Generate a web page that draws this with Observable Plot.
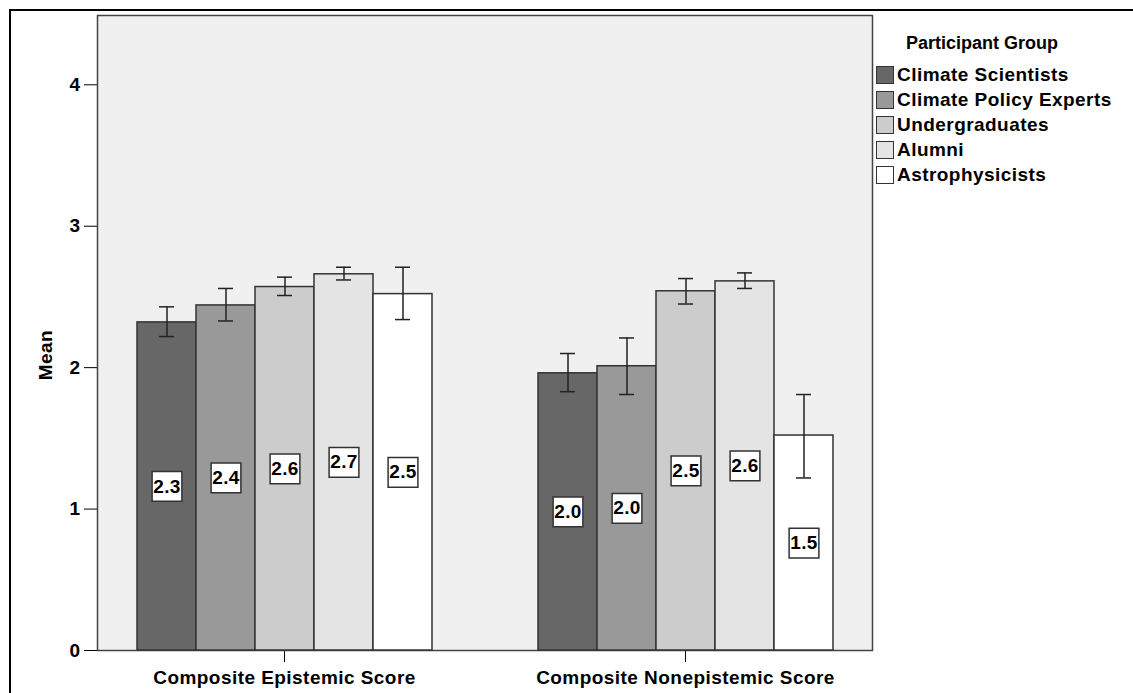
<!DOCTYPE html>
<html><head><meta charset="utf-8">
<script src="https://cdn.jsdelivr.net/npm/d3@7"></script>
<script src="https://cdn.jsdelivr.net/npm/@observablehq/plot@0.6"></script>
<style>
html,body{margin:0;padding:0;background:#fff;overflow:hidden;}
#wrap{position:relative;width:1133px;height:693px;overflow:hidden;font-family:"Liberation Sans",Arial,sans-serif;font-weight:bold;color:#000;letter-spacing:0.45px;}
#border{position:absolute;left:9px;top:9px;width:1400px;height:1000px;border:2px solid #000;box-sizing:border-box;}
#chart{position:absolute;left:0;top:0;}
#ylabel{position:absolute;left:46px;top:355px;font-size:19px;transform:translate(-50%,-50%) rotate(-90deg);white-space:nowrap;}
#legend{position:absolute;left:876px;top:31px;width:240px;}
#legend .title{font-size:18px;letter-spacing:0;text-align:center;width:212px;height:31px;line-height:24px;}
#legend .row{display:flex;align-items:center;height:25px;font-size:19px;line-height:25px;white-space:nowrap;}
#legend .sw{width:18px;height:18px;box-sizing:border-box;border:1.5px solid #333;margin-right:3px;flex:none;}
</style></head><body>
<div id="wrap"><div id="border"></div><div id="chart"></div><div id="ylabel"></div><div id="legend"></div></div>
<script>
const groups = ["Composite Epistemic Score", "Composite Nonepistemic Score"];
const series = ["Climate Scientists", "Climate Policy Experts", "Undergraduates", "Alumni", "Astrophysicists"];
const seriesColors = ["#676767", "#999999", "#cccccc", "#e4e4e4", "#ffffff"];
const legendTitle = "Participant Group";
const yLabel = "Mean";
const yTicks = [0, 1, 2, 3, 4];

const epistemicMean  = [2.32, 2.44, 2.57, 2.66, 2.52];
const epistemicLow   = [2.22, 2.33, 2.51, 2.62, 2.34];
const epistemicHigh  = [2.43, 2.56, 2.64, 2.71, 2.71];
const epistemicLabel = ["2.3", "2.4", "2.6", "2.7", "2.5"];

const nonepistemicMean  = [1.96, 2.01, 2.54, 2.61, 1.52];
const nonepistemicLow   = [1.83, 1.81, 2.45, 2.56, 1.22];
const nonepistemicHigh  = [2.10, 2.21, 2.63, 2.67, 1.81];
const nonepistemicLabel = ["2.0", "2.0", "2.5", "2.6", "1.5"];

const table = [
  [epistemicMean, epistemicLow, epistemicHigh, epistemicLabel],
  [nonepistemicMean, nonepistemicLow, nonepistemicHigh, nonepistemicLabel]
];
const rows = [];
groups.forEach((g, gi) => {
  const [m, lo, hi, lab] = table[gi];
  series.forEach((s, si) => rows.push({group: g, series: s, mean: m[si], low: lo[si], high: hi[si], label: lab[si]}));
});

const font = "'Liberation Sans', Arial, sans-serif";
const plot = Plot.plot({
  width: 1133, height: 693,
  marginLeft: 96, marginRight: 260, marginTop: 15, marginBottom: 43,
  style: {fontFamily: font, fontWeight: "bold", fontSize: "19px", color: "#000", background: "transparent", overflow: "visible", letterSpacing: "0.45px"},
  fx: {domain: groups, paddingInner: 0.067, paddingOuter: 0, label: null, tickSize: 12, tickPadding: 8},
  x: {domain: series, paddingInner: 0, paddingOuter: 0.657, axis: null},
  y: {domain: [0, 4.49], ticks: yTicks, tickFormat: d3.format("d"), tickSize: 13, tickPadding: 4, label: null},
  color: {domain: series, range: seriesColors},
  marks: [
    Plot.frame({fill: "#f0f0f0", stroke: "#444", strokeWidth: 1.5, facet: "super"}),
    Plot.barY(rows, {fx: "group", x: "series", y: "mean", fill: "series", stroke: "#333", strokeWidth: 1.5}),
    Plot.ruleX(rows, {fx: "group", x: "series", y1: "low", y2: "high", stroke: "#222", strokeWidth: 1.5}),
    Plot.tickY(rows, {fx: "group", x: "series", y: "low", insetLeft: 22, insetRight: 22, stroke: "#222", strokeWidth: 1.5}),
    Plot.tickY(rows, {fx: "group", x: "series", y: "high", insetLeft: 22, insetRight: 22, stroke: "#222", strokeWidth: 1.5}),
    Plot.dot(rows, {fx: "group", x: "series", y: d => d.mean / 2, symbol: "square", r: 16.8, fill: "#fff", stroke: "#333", strokeWidth: 1.5}),
    Plot.text(rows, {fx: "group", x: "series", y: d => d.mean / 2, text: "label", fontSize: 19, fontWeight: "bold", fill: "#000"})
  ]
});
document.getElementById("chart").appendChild(plot);
document.getElementById("ylabel").textContent = yLabel;

// legend from the plot's color scale
const cs = plot.scale("color");
const leg = d3.select("#legend");
leg.append("div").attr("class", "title").text(legendTitle);
cs.domain.forEach((d, i) => {
  const r = leg.append("div").attr("class", "row");
  r.append("div").attr("class", "sw").style("background", cs.range[i]);
  r.append("span").text(d);
});
</script>
</body></html>
